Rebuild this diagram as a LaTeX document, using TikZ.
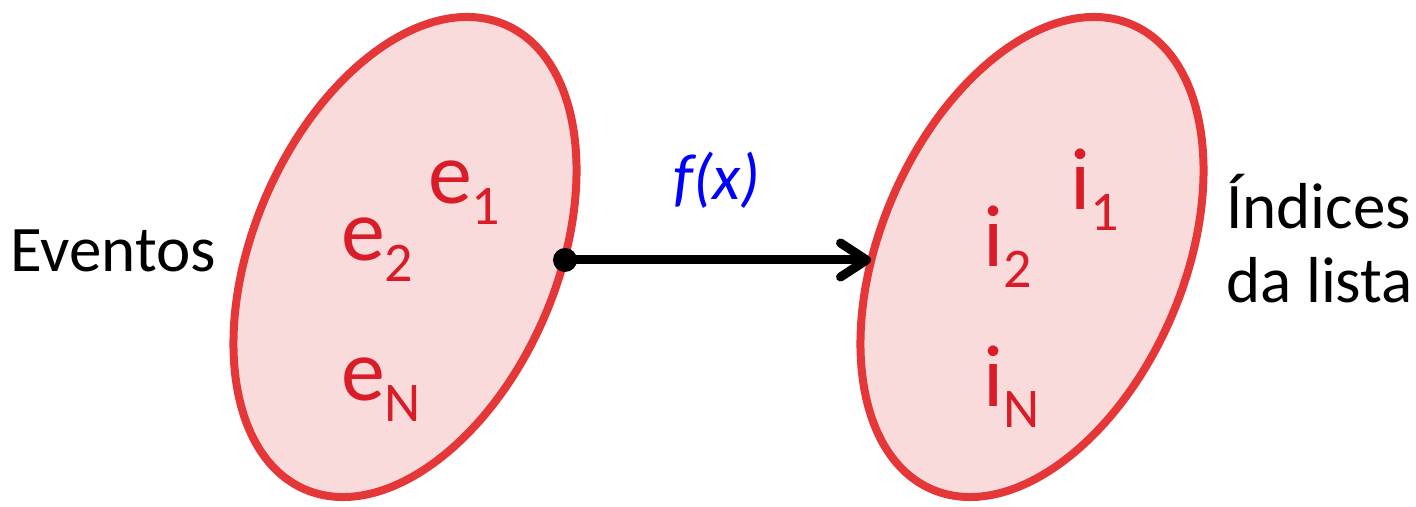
\documentclass[tikz,border=0pt]{standalone}
\usepackage{fontspec}
\setmainfont{Carlito}
\usetikzlibrary{arrows.meta,shapes.geometric}
\definecolor{blobline}{RGB}{229,54,56}
\definecolor{blobfill}{RGB}{249,219,220}
\definecolor{labred}{RGB}{218,28,40}
\definecolor{fblue}{RGB}{0,0,255}
\newcommand{\biglab}[2]{{\fontsize{88}{100}\selectfont #1}\raisebox{-21pt}{\fontsize{56}{64}\selectfont #2}}
\tikzset{
  blob/.style={ellipse, draw=blobline, fill=blobfill, line width=8pt,
    minimum width=303.4pt, minimum height=506pt, inner sep=0pt, rotate=-23.3},
  setlab/.style={anchor=base west, inner sep=0pt, text=labred},
  sidelab/.style={anchor=base west, inner sep=0pt, text=black, font=\fontsize{65}{77}\selectfont},
  maparrow/.style={line width=9pt, -{Straight Barb[length=26pt,width=34pt,round]}}
}
\begin{document}
\begin{tikzpicture}[x=1pt,y=1pt]
\useasboundingbox (0,0) rectangle (1416,506);
\node[blob] (L) at (405,249) {};
\node[blob] (R) at (1032,249) {};
\node[setlab] (e1) at (428,302) {\biglab{e}{1}};
\node[setlab] (e2) at (341,245) {\biglab{e}{2}};
\node[setlab] (eN) at (341,105) {\biglab{e}{N}};
\node[setlab] (i1) at (1070,296) {\biglab{i}{1}};
\node[setlab] (i2) at (983,239) {\biglab{i}{2}};
\node[setlab] (iN) at (983,99) {\biglab{i}{N}};
\node[sidelab] (ev) at (10,234) {Eventos};
\node[sidelab] (ind) at (1226,277) {Índices};
\node[sidelab] (dal) at (1226,203) {da lista};
\coordinate (src) at (565,246);
\coordinate (dst) at (871,246);
\draw[maparrow] (src) -- (dst);
\fill[black] (src) circle[radius=12];
\node[inner sep=0pt, text=fblue, font=\fontsize{65}{77}\selectfont\itshape] (f) at (717,326) {f(x)};
\end{tikzpicture}
\end{document}
